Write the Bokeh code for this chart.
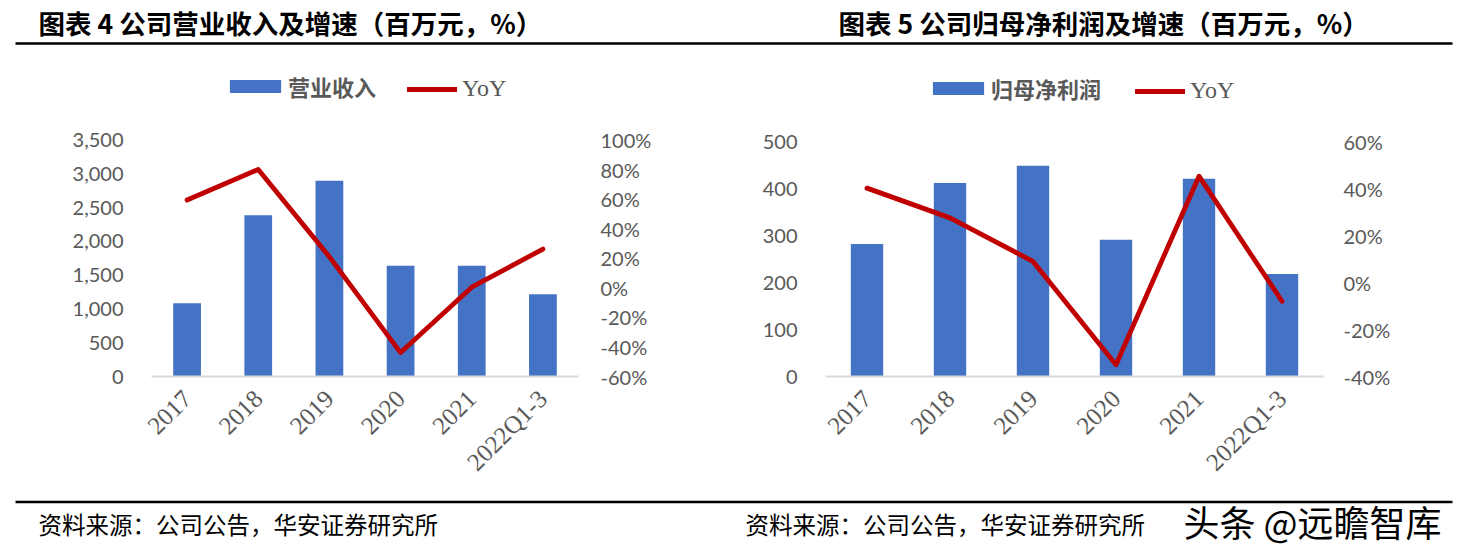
import math
from bokeh.plotting import figure
from bokeh.models import (Range1d, FactorRange, LinearAxis, FixedTicker, NumeralTickFormatter,
                          PrintfTickFormatter, Legend, LegendItem)
from bokeh.layouts import column, row
from bokeh.embed import file_html
from bokeh.resources import INLINE
from bokeh.core.properties import value

# ---------------- data ----------------
categories = ["2017", "2018", "2019", "2020", "2021", "2022Q1-3"]

revenue = [1085, 2390, 2900, 1640, 1640, 1220]          # 百万元
revenue_yoy = [59.5, 80.2, 21.0, -43.8, 0.5, 26.3]      # %
revenue_ticks = [0, 500, 1000, 1500, 2000, 2500, 3000, 3500]
revenue_yoy_ticks = [-60, -40, -20, 0, 20, 40, 60, 80, 100]

profit = [283, 413, 450, 292, 422, 219]                 # 百万元
profit_yoy = [40.4, 27.7, 9.1, -35.0, 45.5, -7.9]       # %
profit_ticks = [0, 100, 200, 300, 400, 500]
profit_yoy_ticks = [-40, -20, 0, 20, 40, 60]

title_left = "图表 4 公司营业收入及增速（百万元，%）"
title_right = "图表 5 公司归母净利润及增速（百万元，%）"
bar_label_left = "营业收入"
bar_label_right = "归母净利润"
line_label = "YoY"
source_text = "资料来源：公司公告，华安证券研究所"
watermark = "头条 @远瞻智库"

BAR_COLOR = "#4472C4"
LINE_COLOR = "#C00000"
TICK_COLOR = "#595959"
CJK = "Noto Sans CJK SC"

ROW_H = 448          # height of the chart row


def chart(width, bars, yoy, bar_label, lticks, rticks, borders, standoffs, leg_bar, leg_line):
    bl, br, bb, plot_h = borders
    frame_h = ROW_H - bb
    # the frame reaches up to the row top so the legend sits inside it;
    # the top tick value lands plot_h pixels above the baseline
    ytop = lticks[0] + (lticks[-1] - lticks[0]) * frame_h / plot_h
    rtop = rticks[0] + (rticks[-1] - rticks[0]) * frame_h / plot_h
    p = figure(width=width, height=ROW_H,
               x_range=FactorRange(factors=categories, range_padding=0),
               y_range=Range1d(lticks[0], ytop),
               output_backend="svg", toolbar_location=None,
               min_border_left=bl, min_border_right=br,
               min_border_top=0, min_border_bottom=bb)
    p.outline_line_color = None
    p.grid.visible = False
    p.background_fill_color = "white"
    p.border_fill_color = "white"
    p.extra_y_ranges = {"yoy": Range1d(rticks[0], rtop)}

    ya = p.yaxis[0]
    ya.ticker = FixedTicker(ticks=lticks)
    ya.formatter = NumeralTickFormatter(format="0,0")
    ya.axis_line_color = None
    ya.major_tick_line_color = None
    ya.minor_tick_line_color = None
    ya.major_label_standoff = standoffs[0]
    ya.major_label_text_font = "Lato"
    ya.major_label_text_font_size = "20px"
    ya.major_label_text_color = TICK_COLOR

    ra = LinearAxis(y_range_name="yoy", ticker=FixedTicker(ticks=rticks),
                    formatter=PrintfTickFormatter(format="%d%%"))
    ra.axis_line_color = None
    ra.major_tick_line_color = None
    ra.minor_tick_line_color = None
    ra.major_label_standoff = standoffs[1]
    ra.major_label_text_font = "Lato"
    ra.major_label_text_font_size = "20px"
    ra.major_label_text_color = TICK_COLOR
    p.add_layout(ra, "right")

    xa = p.xaxis[0]
    xa.axis_line_color = "#D9D9D9"
    xa.axis_line_width = 2
    xa.major_tick_line_color = None
    xa.minor_tick_line_color = None
    xa.major_label_orientation = math.pi / 4
    xa.major_label_standoff = 12
    xa.major_label_text_font = "Liberation Serif"
    xa.major_label_text_font_size = "25px"
    xa.major_label_text_color = TICK_COLOR

    vb = p.vbar(x=categories, top=bars, width=0.39, fill_color=BAR_COLOR, line_color=None)
    ln = p.line(x=categories, y=yoy, y_range_name="yoy", line_color=LINE_COLOR,
                line_width=4.8, line_cap="round", line_join="round")

    l1 = Legend(items=[LegendItem(label=bar_label, renderers=[vb])], location=leg_bar,
                orientation="horizontal", glyph_width=64, glyph_height=16, label_height=16,
                label_standoff=1, padding=0, margin=0, border_line_color=None,
                background_fill_alpha=0, label_text_font=CJK, label_text_font_style="bold",
                label_text_font_size="22px", label_text_color=TICK_COLOR)
    l2 = Legend(items=[LegendItem(label=line_label, renderers=[ln])], location=leg_line,
                orientation="horizontal", glyph_width=50, glyph_height=16, label_height=16,
                label_standoff=5, padding=0, margin=0, border_line_color=None,
                background_fill_alpha=0, label_text_font="Liberation Serif",
                label_text_font_size="24px", label_text_color=TICK_COLOR)
    p.add_layout(l1)
    p.add_layout(l2)
    return p


left = chart(735, revenue, revenue_yoy, bar_label_left, revenue_ticks, revenue_yoy_ticks,
             (151, 157, 119, 237), (22, 16), (72, 274), (256, 274))
right = chart(728, profit, profit_yoy, bar_label_right, profit_ticks, profit_yoy_ticks,
              (90, 140, 120, 234.3), (22, 14), (101, 272), (310, 272))


def band(w, h):
    f = figure(width=w, height=h, x_range=Range1d(0, w), y_range=Range1d(h, 0),
               output_backend="svg", toolbar_location=None, min_border=0,
               x_axis_location=None, y_axis_location=None)
    f.outline_line_color = None
    f.grid.visible = False
    return f


hdr = band(1463, 48)
hdr.text(x=[38, 838], y=[22, 22], text=[title_left, title_right], text_font=value(CJK),
         text_font_style="bold", text_font_size="26.5px", text_baseline="middle",
         text_align="left", text_color="black")
hdr.segment(x0=[15], y0=[43], x1=[1452], y1=[43], line_width=2.5, line_color="black")

ftr = band(1463, 50)
ftr.segment(x0=[15], y0=[5.5], x1=[1452], y1=[5.5], line_width=2.5, line_color="black")
ftr.text(x=[38, 745], y=[27, 27], text=[source_text, source_text], text_font=value(CJK),
         text_font_size="23.5px", text_baseline="middle", text_align="left", text_color="black")
ftr.text(x=[1183], y=[24], text=[watermark], text_font=value(CJK), text_font_size="36px",
         text_baseline="middle", text_align="left", text_color="black")

layout = column(hdr, row(left, right), ftr)
open("out.html", "w").write(file_html(layout, INLINE))
